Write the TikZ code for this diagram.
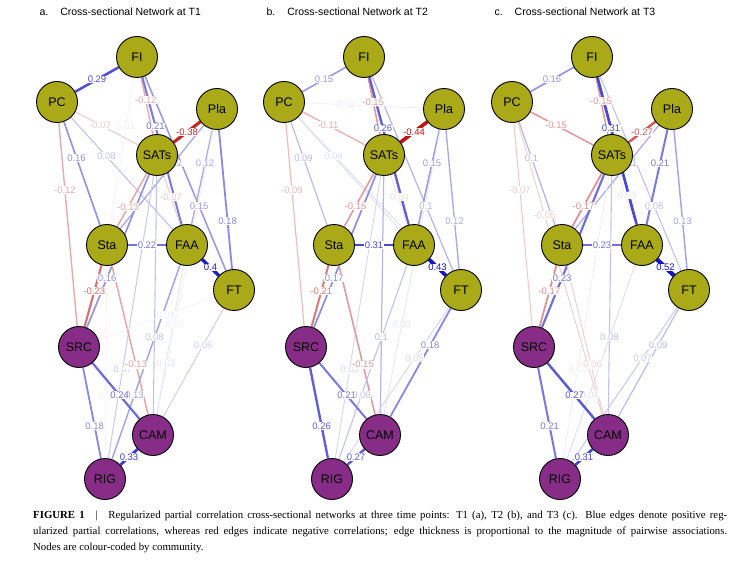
\documentclass[tikz,border=0pt]{standalone}
\usepackage{fontspec}
\setmainfont{Liberation Serif}
\setsansfont{Liberation Sans}
\usetikzlibrary{calc}

\definecolor{symfill}{RGB}{170,170,25}
\definecolor{comfill}{RGB}{135,45,135}
\definecolor{posblue}{RGB}{20,20,200}
\definecolor{negred}{RGB}{195,20,20}

\pgfdeclarelayer{edges}
\pgfdeclarelayer{labels}
\pgfsetlayers{edges,labels,main}

% same layout in all three panels
\newcommand{\netnodes}[2]{%
  \begin{scope}[xshift=#2pt]
    \node[sym] (#1FI)   at (137,57)  {FI};
    \node[sym] (#1PC)   at (57,102)  {PC};
    \node[sym] (#1Pla)  at (217,109) {Pla};
    \node[sym] (#1SATs) at (157,155) {SATs};
    \node[sym] (#1Sta)  at (107,245) {Sta};
    \node[sym] (#1FAA)  at (187,245) {FAA};
    \node[sym] (#1FT)   at (234,290) {FT};
    \node[com] (#1SRC)  at (79,347)  {SRC};
    \node[com] (#1CAM)  at (153,435) {CAM};
    \node[com] (#1RIG)  at (105,479) {RIG};
  \end{scope}}

% from/to/weight/label position
\newcommand{\netedges}[2]{%
  \foreach \u/\v/\w/\p in {#2} {
    \pgfmathsetmacro{\aw}{abs(\w)}
    \pgfmathsetmacro{\lw}{0.55+7*\aw}
    \pgfmathtruncatemacro{\pc}{min(100,max(7,100*(\aw/0.42)^0.8))}
    \ifdim\w pt<0pt \def\ec{negred}\else\def\ec{posblue}\fi
    \colorlet{ecol}{\ec!\pc!white}
    \begin{pgfonlayer}{edges}
      \draw[line width=\lw pt, draw=ecol] (#1\u) -- (#1\v);
    \end{pgfonlayer}
    \begin{pgfonlayer}{labels}
      \node[elabel, text=ecol] at ($(#1\u)!\p!(#1\v)$) {\w};
    \end{pgfonlayer}
  }}

\begin{document}
\begin{tikzpicture}[x=1pt, y=-1pt,
    sym/.style={circle, draw=black, line width=0.9pt, fill=symfill, minimum size=41pt,
                inner sep=0pt, font=\sffamily\fontsize{12.5}{14}\selectfont},
    com/.style={sym, fill=comfill},
    elabel/.style={fill=white, inner sep=0.5pt, font=\sffamily\fontsize{9.5}{10}\selectfont},
    paneltitle/.style={anchor=west, font=\sffamily\fontsize{10.5}{12}\selectfont},
    caption/.style={anchor=north west, text width=694pt, align=justify, inner sep=0pt,
                    font=\fontsize{10.8}{16}\selectfont}
]
\useasboundingbox (0,0) rectangle (749,564);

\node[paneltitle] (ta) at (36,12)  {a.\hspace{12pt}Cross-sectional Network at T1};
\node[paneltitle] (tb) at (263,12) {b.\hspace{12pt}Cross-sectional Network at T2};
\node[paneltitle] (tc) at (491,12) {c.\hspace{12pt}Cross-sectional Network at T3};

\netnodes{a}{0}
\netnodes{b}{227}
\netnodes{c}{455}

% T1
\netedges{a}{FI/PC/0.29/.5, FI/SATs/-0.12/.44, FI/FAA/0.21/.37, FI/Sta/0.01/.37,
  FI/FT/0.15/.64, PC/SATs/-0.07/.43, PC/Sta/0.16/.39, PC/FAA/0.08/.38,
  PC/SRC/-0.12/.36, Pla/SATs/-0.38/.5, Pla/Sta/0.12/.4, Pla/FAA/0.12/.4,
  Pla/FT/0.18/.62, Pla/CAM/0.02/.66, SATs/Sta/-0.13/.58, SATs/FAA/-0.07/.47,
  SATs/SRC/0.16/.64, SATs/CAM/0.08/.65, SATs/RIG/0.07/.66, Sta/FAA/0.22/.5,
  Sta/SRC/-0.23/.45, Sta/CAM/-0.13/.63, Sta/RIG/-0.01/.64, FAA/FT/0.4/.5,
  FAA/CAM/0.03/.62, FAA/RIG/0.13/.64, FT/CAM/0.06/.38, SRC/FT/0.01/.56,
  SRC/CAM/0.24/.55, SRC/RIG/0.18/.6, CAM/RIG/0.33/.5}

% T2
\netedges{b}{FI/PC/0.15/.5, FI/SATs/-0.15/.46, FI/FAA/0.26/.38, FI/FT/0.1/.64,
  PC/Pla/0.02/.39, PC/SATs/-0.11/.44, PC/Sta/0.09/.39, PC/FAA/0.04/.38,
  PC/FT/0.04/.68, PC/SRC/-0.09/.36, Pla/SATs/-0.44/.5, Pla/FAA/0.15/.4,
  Pla/FT/0.12/.62, Pla/CAM/0.03/.66, SATs/Sta/-0.15/.57, SATs/FAA/-0.04/.47,
  SATs/SRC/0.17/.64, SATs/CAM/0.1/.65, SATs/RIG/0.05/.66, Sta/FAA/0.31/.5,
  Sta/SRC/-0.21/.45, Sta/CAM/-0.15/.63, FAA/FT/0.43/.5, FAA/RIG/0.08/.64,
  FT/CAM/0.18/.38, FT/RIG/0.05/.36, SRC/CAM/0.21/.55, SRC/RIG/0.26/.6,
  CAM/RIG/0.27/.5}

% T3
\netedges{c}{FI/PC/0.16/.5, FI/SATs/-0.15/.45, FI/FAA/0.31/.38, FI/FT/0.08/.64,
  PC/SATs/-0.15/.44, PC/Sta/0.1/.39, PC/SRC/-0.07/.36, PC/CAM/-0.06/.34,
  Pla/SATs/-0.27/.5, Pla/Sta/0.11/.4, Pla/FAA/0.21/.4, Pla/FT/0.13/.62,
  SATs/Sta/-0.17/.57, SATs/FAA/-0.03/.45, SATs/SRC/0.23/.64, SATs/CAM/0.08/.65,
  SATs/RIG/0.02/.66, Sta/FAA/0.23/.5, Sta/SRC/-0.17/.45, Sta/CAM/-0.06/.63,
  FAA/FT/0.52/.5, FAA/RIG/0.04/.64, FT/CAM/0.09/.38, FT/RIG/0.07/.36,
  SRC/CAM/0.27/.55, SRC/RIG/0.21/.6, CAM/RIG/0.31/.5}

\node[caption] (cap) at (33,511) {\textbf{FIGURE 1}\quad|\quad Regularized partial
  correlation cross-sectional networks at three time points: T1 (a), T2 (b), and T3 (c).
  Blue edges denote positive reg-\linebreak ularized partial correlations, whereas red
  edges indicate negative correlations; edge thickness is proportional to the magnitude
  of pairwise associations.\linebreak Nodes are colour-coded by community.};
\end{tikzpicture}
\end{document}
